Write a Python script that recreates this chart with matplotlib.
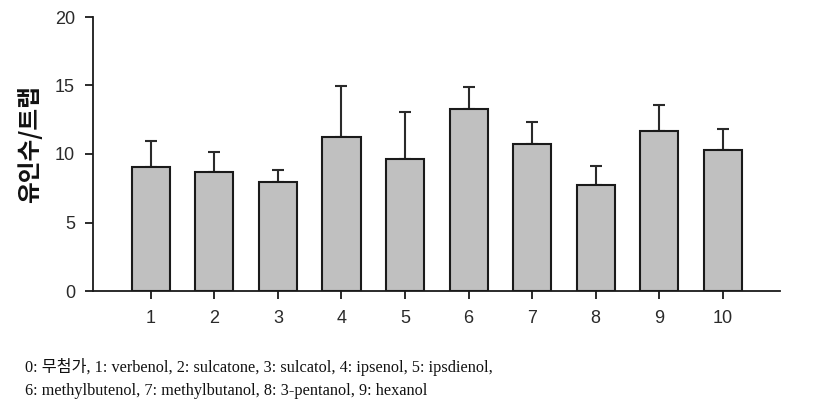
import matplotlib
matplotlib.use("Agg")
import matplotlib.pyplot as plt
import numpy as np

categories = [1, 2, 3, 4, 5, 6, 7, 8, 9, 10]
means = [9.03, 8.71, 7.96, 11.26, 9.66, 13.31, 10.73, 7.76, 11.70, 10.31]
err_up = [1.90, 1.46, 0.85, 3.73, 3.41, 1.56, 1.58, 1.39, 1.90, 1.49]
yticks = [0, 5, 10, 15, 20]
ylabel = "유인수/트랩"
caption1 = "0: 무첨가, 1: verbenol, 2: sulcatone, 3: sulcatol, 4: ipsenol, 5: ipsdienol,"
caption2 = "6: methylbutenol, 7: methylbutanol, 8: 3-pentanol, 9: hexanol"

fig = plt.figure(figsize=(8.4, 4.2), dpi=100)
ax = fig.add_axes([93/840, (420-291)/420, (780-93)/840, (291-17)/420])

ax.bar(categories, means, width=0.6, color="#c0c0c0", edgecolor="#1a1a1a",
       linewidth=1.5, zorder=2)
ax.errorbar(categories, means, yerr=[np.zeros(len(err_up)), err_up], fmt="none",
            ecolor="#2a2a2a", elinewidth=1.5, capsize=4.5, capthick=1.5, zorder=1)

ax.set_xlim(0.09, 10.9)
ax.set_ylim(0, 20)
ax.set_xticks(categories)
ax.set_xticklabels([str(c) for c in categories])
ax.set_yticks(yticks)
ax.spines["top"].set_visible(False)
ax.spines["right"].set_visible(False)
for s in ("left", "bottom"):
    ax.spines[s].set_linewidth(1.3)
    ax.spines[s].set_color("#1a1a1a")
ax.tick_params(axis="both", direction="out", length=6, width=1.3, color="#1a1a1a",
               labelsize=13, labelcolor="#2a2a2a")
ax.tick_params(axis="y", pad=7)
ax.tick_params(axis="x", pad=8)
for lab in ax.get_xticklabels() + ax.get_yticklabels():
    lab.set_family(["Liberation Sans", "DejaVu Sans"])

fig.text(30/840, 1 - 144/420, ylabel, rotation=90, ha="center", va="center",
         fontsize=17, fontweight="bold", family=["Noto Sans CJK KR", "DejaVu Sans"],
         color="#111111")

fig.text(25/840, 1 - 367/420, caption1, ha="left", va="center", fontsize=11.7,
         family=["Liberation Serif", "Noto Sans CJK KR"], color="#111111")
fig.text(25/840, 1 - 391/420, caption2, ha="left", va="center", fontsize=11.7,
         family=["Liberation Serif", "Noto Sans CJK KR"], color="#111111")

fig.savefig("out.png", dpi=100)
